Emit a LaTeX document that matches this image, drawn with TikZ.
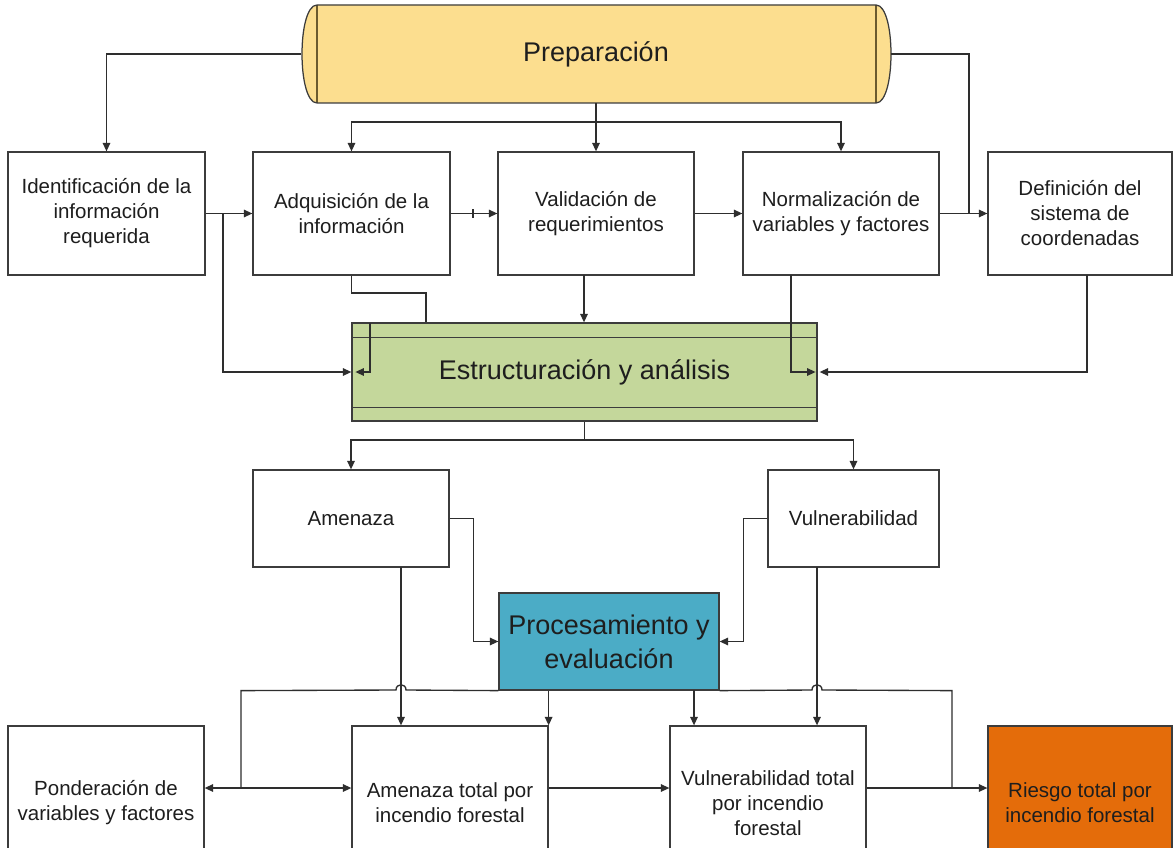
\documentclass[tikz,border=0pt]{standalone}
\usepackage{fontspec}
\setmainfont{Liberation Sans}
\usetikzlibrary{arrows.meta}
\definecolor{prepfill}{HTML}{FCDE8F}
\definecolor{prepline}{HTML}{6B5A2E}
\definecolor{estrfill}{HTML}{C4D79B}
\definecolor{procfill}{HTML}{4BACC6}
\definecolor{riskfill}{HTML}{E46C0A}
\definecolor{edge}{HTML}{3C3C3C}
\definecolor{wire}{HTML}{2E2E2E}
\definecolor{ink}{HTML}{1E1E1E}

\begin{document}
\begin{tikzpicture}[x=1pt,y=-1pt,
  box/.style={draw=edge, line width=1.25pt, fill=white, inner sep=0pt, align=center,
              text=ink, font=\fontsize{20.5}{25}\selectfont},
  big/.style={font=\fontsize{27}{34}\selectfont},
  link/.style={draw=wire, line width=1.35pt},
  arr/.style={link, -{Triangle[length=8.5pt,width=7.5pt]}},
]
\clip (0,0) rectangle (1175,848);
\fill[white] (0,0) rectangle (1175,848);

% --- Preparación: horizontal drum with rounded ends
\fill[prepfill] (317,5) -- (876,5) .. controls (896,5) and (896,103) .. (876,103)
   -- (317,103) .. controls (297,103) and (297,5) .. (317,5) -- cycle;
\draw[prepline, line width=1.25pt] (317,5) -- (317,103) (876,5) -- (876,103);
\draw[edge, line width=1.25pt] (317,5) -- (876,5) .. controls (896,5) and (896,103) .. (876,103)
   -- (317,103) .. controls (297,103) and (297,5) .. (317,5) -- cycle;
\node[inner sep=0pt, minimum width=589pt, minimum height=98pt, text=ink, big] (prep) at (596,54) {Preparación};

% --- first row of steps
\node[box, minimum width=197pt, minimum height=123pt] (ident) at (106.5,213.5) {Identificación de la\\información\\requerida};
\node[box, minimum width=197pt, minimum height=123pt] (adq)   at (351.5,213.5) {Adquisición de la\\información};
\node[box, minimum width=196pt, minimum height=123pt] (valid) at (596,213.5) {Validación de\\requerimientos};
\node[box, minimum width=196pt, minimum height=123pt] (norm)  at (841,213.5) {Normalización de\\variables y factores};
\node[box, minimum width=184pt, minimum height=123pt] (defi)  at (1080,213.5) {Definición del\\sistema de\\coordenadas};

% --- Estructuración y análisis
\node[box, fill=estrfill, minimum width=465pt, minimum height=98pt, big] (estr) at (584.5,372) {Estructuración y análisis};
\draw[edge, line width=1.25pt] ([yshift=-15pt]estr.north west) -- ([yshift=-15pt]estr.north east)
  ([yshift=14pt]estr.south west) -- ([yshift=14pt]estr.south east);

% --- second row
\node[box, minimum width=196pt, minimum height=97pt] (amen) at (351,518.5) {Amenaza};
\node[box, minimum width=171pt, minimum height=97pt] (vuln) at (853.5,518.5) {Vulnerabilidad};
\node[box, fill=procfill, minimum width=220pt, minimum height=97pt, big] (proc) at (609,641.5) {Procesamiento y\\evaluación};

% --- results row
\node[box, minimum width=196pt, minimum height=154pt] (pond)   at (106,803) {Ponderación de\\variables y factores};
\node[box, minimum width=196pt, minimum height=154pt] (amtot)  at (450,803) {Amenaza total por\\incendio forestal};
\node[box, minimum width=196pt, minimum height=154pt] (vutot)  at (768,803) {Vulnerabilidad total\\por incendio\\forestal};
\node[box, fill=riskfill, minimum width=184pt, minimum height=154pt] (riesgo) at (1080,803) {Riesgo total por\\incendio forestal};

% --- connectors from Preparación
\coordinate (bus1) at (596,122);
\draw[arr] (prep.west) -| (ident.north);
\draw[arr] (prep.south) -- (valid.north);
\draw[arr] (bus1) -| (adq.north);
\draw[arr] (bus1) -| (norm.north);
\coordinate (j1) at (969,213.5);
\draw[link] (prep.east) -| (j1);

% --- along the first row
\coordinate (j2) at (223,213.5);
\coordinate (tick) at (473,213.5);
\draw[arr] (ident.east) -- (adq.west);
\draw[arr] (adq.east) -- (valid.west);
\draw[link] ([yshift=4.5pt]tick) -- ([yshift=-4.5pt]tick);
\draw[arr] (valid.east) -- (norm.west);
\draw[arr] (norm.east) -- (defi.west);

% --- into Estructuración y análisis
\draw[arr] (j2) |- (estr.west);
\coordinate (a1) at (426,293);
\draw[link] (adq.south) |- (a1) -- (a1 |- estr.north);
\coordinate (a2) at (370,323);
\draw[arr] (a2) |- ([xshift=4pt]estr.west);
\coordinate (v1) at (584,275);
\draw[arr] (v1) -- (v1 |- estr.north);
\coordinate (n1) at (791,275);
\draw[arr] (n1) |- ([xshift=-2pt]estr.east);
\coordinate (d1) at (1087,275);
\draw[arr] (d1) |- ([xshift=2pt]estr.east);

% --- to Amenaza / Vulnerabilidad
\coordinate (bus2) at (584.5,440);
\draw[link] (estr.south) -- (bus2);
\draw[arr] (bus2) -| (amen.north);
\draw[arr] (bus2) -| (vuln.north);
\draw[arr] (amen.east) -- ++(24,0) |- (proc.west);
\draw[arr] (vuln.west) -- ++(-24,0) |- (proc.east);

% --- from Procesamiento y evaluación to the results
\coordinate (b1) at (241,788);
\coordinate (b2) at (952,788);
\draw[link] (proc.south west) -- (406,690) .. controls (406,683) and (396,683) .. (396,690)
  -- (b1 |- proc.south) -- (b1);
\draw[link] (proc.south east) -- (812,690) .. controls (812,683) and (822,683) .. (822,690)
  -- (b2 |- proc.south) -- (b2);
\draw[arr] (b1) -- (b1 -| pond.east);
\draw[arr] (b1) -- (b1 -| amtot.west);
\coordinate (m1) at (401,567);
\draw[arr] (m1) -- (m1 |- amtot.north);
\coordinate (m2) at (817,567);
\draw[arr] (m2) -- (m2 |- vutot.north);
\draw[arr] (proc.south -| amtot.north east) -- (amtot.north east);
\coordinate (p2) at (694,690);
\draw[arr] (p2) -- (p2 |- vutot.north);
\draw[arr] (amtot.east |- b1) -- (vutot.west |- b1);
\draw[arr] (vutot.east |- b2) -- (b2) -- (b2 -| riesgo.west);
\end{tikzpicture}
\end{document}
